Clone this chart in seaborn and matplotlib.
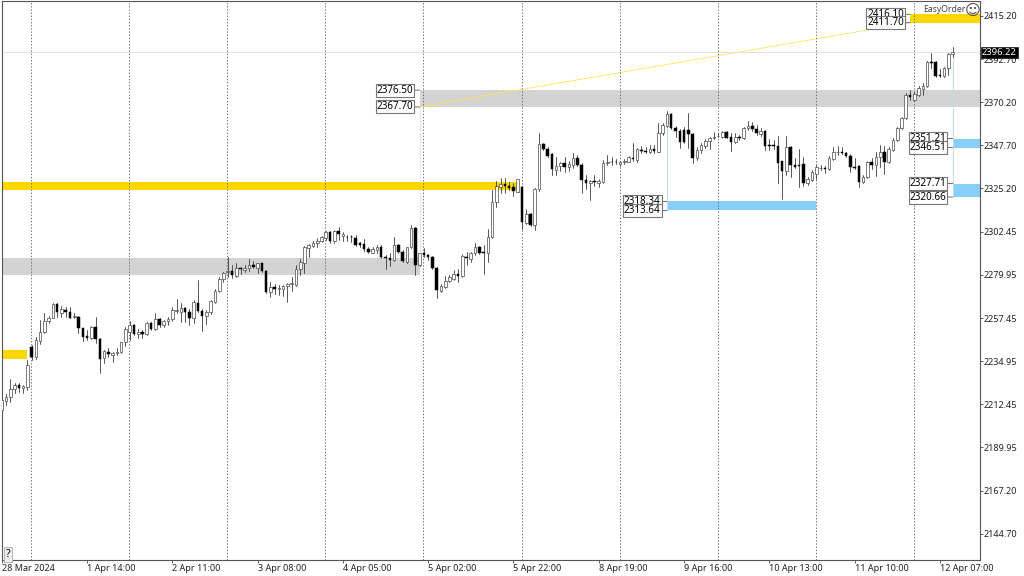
import matplotlib
matplotlib.use("Agg")
import matplotlib.pyplot as plt
import numpy as np
import pandas as pd
import seaborn as sns

opens = [2209.4,2214.3,2216.1,2220.2,2222.3,2220.8,2221.6,2242.5,2237.0,2245.7,
2250.0,2256.1,2257.7,2264.8,2260.3,2261.7,2260.5,2258.2,2258.2,2252.1,
2248.1,2246.9,2252.6,2246.5,2236.4,2239.9,2238.0,2239.4,2239.6,2244.8,
2250.4,2253.8,2249.0,2250.4,2249.0,2254.7,2251.7,2256.8,2253.7,2255.8,
2256.8,2261.2,2260.8,2262.5,2260.8,2257.7,2265.5,2261.2,2258.7,2260.5,
2266.0,2271.8,2277.7,2281.7,2282.0,2279.6,2283.4,2282.6,2283.4,2285.2,
2283.8,2286.0,2282.2,2271.3,2273.5,2272.5,2272.6,2274.0,2275.2,2274.7,
2282.9,2286.4,2294.2,2295.1,2296.8,2297.9,2299.1,2302.2,2297.7,2302.9,
2300.2,2300.0,2300.0,2299.1,2296.5,2296.0,2293.3,2291.6,2293.0,2294.7,
2289.5,2288.6,2287.8,2295.6,2292.1,2286.9,2294.4,2304.7,2285.2,2291.3,
2290.2,2289.2,2283.4,2271.6,2273.8,2277.0,2277.9,2280.3,2279.4,2289.5,
2288.1,2291.3,2294.4,2291.8,2291.3,2300.0,2317.9,2326.1,2327.5,2326.4,
2325.7,2323.5,2326.1,2306.9,2311.6,2306.0,2324.7,2348.3,2345.7,2343.1,
2334.8,2336.9,2338.3,2336.5,2337.4,2340.9,2337.4,2329.6,2327.8,2329.0,
2328.2,2328.7,2338.3,2339.1,2339.1,2337.9,2338.9,2339.1,2340.9,2340.0,
2345.4,2344.7,2344.3,2345.6,2344.3,2353.9,2357.7,2364.0,2356.9,2355.3,
2355.6,2355.6,2353.4,2340.9,2345.2,2347.5,2349.9,2351.7,2352.4,2352.2,
2354.8,2351.8,2349.6,2352.2,2351.3,2356.5,2357.7,2356.2,2353.4,2355.3,
2347.8,2347.8,2347.5,2339.5,2334.4,2346.9,2337.4,2337.4,2337.9,2327.8,
2329.6,2332.7,2335.7,2336.0,2335.3,2340.5,2344.0,2344.3,2343.5,2342.3,
2336.2,2336.9,2328.7,2331.0,2338.8,2337.4,2341.4,2344.0,2339.1,2345.2,
2350.4,2356.5,2361.8,2373.9,2371.3,2373.9,2376.9,2378.6,2391.3,2391.3,
2384.4,2383.9,2387.9,2395.2]

highs = [2215.5,2217.8,2225.5,2223.4,2223.4,2222.5,2235.6,2243.4,2247.7,2256.4,
2259.9,2258.5,2265.2,2265.5,2263.8,2263.4,2263.4,2260.3,2258.7,2252.4,
2251.2,2253.3,2258.2,2246.9,2240.8,2241.7,2239.9,2241.7,2245.1,2253.0,
2256.1,2254.4,2251.6,2251.2,2255.2,2255.6,2259.9,2257.3,2256.4,2257.8,
2263.4,2267.2,2265.2,2263.4,2262.0,2266.9,2277.3,2262.0,2261.7,2266.9,
2272.5,2278.7,2281.7,2289.2,2285.2,2286.0,2283.9,2285.2,2288.1,2287.4,
2286.4,2286.4,2282.6,2276.5,2275.2,2274.7,2274.7,2276.0,2279.1,2285.2,
2288.1,2295.1,2296.1,2297.9,2299.1,2300.3,2302.9,2302.9,2303.4,2305.2,
2302.6,2300.8,2300.8,2300.8,2297.3,2298.6,2294.4,2294.4,2295.4,2295.4,
2290.4,2291.3,2299.6,2296.1,2293.0,2294.7,2306.0,2305.2,2291.6,2293.9,
2290.9,2289.9,2283.9,2275.2,2279.6,2279.9,2282.6,2282.9,2290.9,2291.8,
2292.1,2296.5,2295.1,2295.6,2303.8,2324.3,2329.2,2330.4,2330.4,2328.7,
2327.8,2330.1,2326.4,2314.4,2312.5,2325.2,2354.3,2349.0,2346.6,2343.8,
2341.4,2339.1,2341.7,2339.7,2343.8,2342.6,2338.3,2332.2,2329.6,2332.2,
2329.9,2340.0,2342.6,2341.4,2340.3,2339.6,2340.3,2342.1,2348.7,2346.1,
2347.3,2347.0,2347.8,2347.8,2359.1,2359.5,2365.8,2364.7,2357.7,2356.0,
2357.1,2364.4,2353.9,2346.6,2349.0,2350.8,2352.2,2354.8,2353.9,2355.3,
2355.3,2354.3,2354.3,2353.1,2357.1,2360.5,2360.0,2358.3,2356.5,2355.7,
2350.8,2350.4,2352.5,2339.6,2352.5,2347.3,2340.9,2345.6,2341.4,2331.3,
2334.8,2337.4,2337.4,2336.9,2342.1,2346.6,2347.3,2346.6,2344.3,2343.1,
2340.9,2337.4,2332.2,2339.6,2340.9,2344.3,2347.8,2347.3,2346.9,2351.3,
2357.4,2362.6,2374.8,2376.6,2375.7,2378.6,2380.0,2391.7,2395.7,2391.7,
2387.3,2388.7,2395.7,2398.8]

lows = [2207.7,2212.1,2213.8,2218.2,2219.0,2218.2,2219.9,2235.6,2235.9,2243.9,
2249.5,2255.1,2257.3,2258.2,2258.2,2258.2,2257.3,2257.3,2249.5,2245.7,
2246.0,2246.3,2244.6,2229.0,2234.2,2237.3,2234.7,2238.2,2239.0,2242.9,
2246.0,2248.6,2246.9,2246.9,2248.6,2251.2,2251.2,2252.6,2253.0,2253.7,
2256.1,2259.9,2255.6,2255.6,2253.8,2254.7,2260.8,2250.9,2254.4,2259.6,
2265.5,2271.3,2276.5,2279.1,2278.2,2279.1,2280.5,2281.7,2282.2,2283.4,
2281.2,2281.7,2270.7,2268.3,2270.0,2269.5,2269.0,2266.0,2271.8,2274.2,
2280.0,2280.8,2289.2,2294.4,2294.7,2297.3,2298.2,2296.8,2296.8,2298.2,
2297.9,2297.9,2297.3,2295.3,2294.4,2292.7,2291.3,2291.3,2291.6,2288.8,
2283.3,2284.6,2287.4,2291.6,2286.7,2286.4,2293.9,2279.9,2284.6,2289.2,
2287.8,2282.9,2268.1,2270.9,2273.0,2276.5,2277.3,2276.5,2279.1,2285.2,
2286.9,2290.4,2290.9,2280.5,2286.9,2299.1,2315.6,2322.6,2322.6,2324.3,
2321.2,2323.1,2303.8,2306.4,2305.7,2303.4,2324.0,2345.2,2341.4,2332.2,
2332.2,2334.4,2333.9,2334.4,2335.6,2336.9,2322.9,2324.7,2319.1,2326.4,
2326.1,2327.8,2337.4,2337.4,2337.7,2336.9,2337.9,2338.8,2339.6,2339.1,
2343.8,2343.5,2343.5,2343.8,2344.0,2353.0,2357.4,2356.0,2352.2,2346.1,
2348.7,2346.1,2338.6,2340.0,2343.5,2346.1,2345.6,2350.8,2351.8,2351.7,
2351.3,2344.9,2349.0,2350.4,2351.0,2355.7,2355.3,2353.1,2352.7,2345.2,
2345.2,2345.6,2327.8,2319.4,2332.2,2330.9,2335.6,2326.1,2326.4,2326.9,
2329.2,2329.9,2334.8,2333.4,2334.8,2340.0,2342.6,2343.1,2341.7,2333.9,
2335.1,2325.7,2327.8,2330.4,2335.1,2331.6,2336.5,2332.7,2338.3,2344.9,
2350.1,2356.0,2361.4,2371.3,2371.0,2373.4,2373.9,2378.3,2387.9,2383.2,
2383.2,2383.2,2384.4,2394.0]

closes = [2214.6,2216.4,2220.4,2222.5,2220.8,2222.2,2233.0,2237.3,2246.0,2250.4,
2256.1,2257.7,2264.8,2260.8,2262.0,2260.5,2257.7,2258.7,2252.1,2247.7,
2246.9,2253.0,2246.5,2236.3,2240.1,2238.5,2239.4,2239.6,2244.8,2251.6,
2253.8,2249.1,2250.4,2249.0,2254.7,2251.7,2256.8,2253.7,2255.9,2256.8,
2261.5,2261.5,2262.5,2260.8,2257.7,2265.7,2261.2,2258.7,2260.5,2266.4,
2271.8,2277.9,2280.8,2282.0,2280.0,2283.4,2282.9,2283.8,2285.3,2284.0,
2286.0,2282.2,2271.3,2273.5,2272.5,2273.0,2274.2,2275.2,2275.6,2283.3,
2286.6,2294.4,2295.4,2296.8,2297.9,2299.6,2302.2,2297.7,2302.9,2301.4,
2301.2,2299.6,2299.6,2295.6,2295.6,2293.3,2291.9,2293.3,2294.7,2289.3,
2288.6,2287.8,2295.6,2292.1,2287.3,2294.4,2304.3,2285.2,2291.3,2290.2,
2289.2,2283.4,2272.1,2274.2,2277.0,2279.1,2280.3,2279.6,2290.0,2288.6,
2291.6,2294.4,2291.6,2291.3,2300.0,2317.9,2326.4,2327.5,2326.4,2325.2,
2324.0,2329.9,2307.8,2311.8,2306.0,2324.7,2348.3,2345.7,2342.1,2335.1,
2336.9,2338.3,2336.5,2337.9,2340.9,2337.4,2329.6,2327.8,2329.0,2328.5,
2329.0,2338.6,2339.1,2338.8,2338.8,2339.1,2339.6,2341.4,2340.3,2345.6,
2344.7,2344.3,2345.6,2344.7,2354.3,2358.3,2364.0,2356.5,2355.3,2349.6,
2349.6,2353.4,2340.9,2345.2,2347.8,2349.9,2351.7,2352.2,2352.7,2354.8,
2351.7,2349.6,2352.2,2351.7,2356.5,2357.7,2356.0,2353.9,2355.3,2347.5,
2347.5,2347.5,2338.6,2334.4,2346.6,2337.4,2336.5,2337.0,2327.8,2330.1,
2333.9,2336.2,2336.0,2335.3,2340.9,2344.0,2344.3,2343.5,2342.3,2336.5,
2335.7,2328.7,2331.0,2338.8,2337.4,2341.7,2344.3,2339.1,2345.6,2350.4,
2356.5,2361.8,2373.9,2372.7,2374.5,2377.4,2378.8,2391.3,2390.8,2384.0,
2383.9,2387.9,2395.2,2396.2]

price_ticks = [2415.20,2392.70,2370.20,2347.70,2325.20,2302.45,2279.95,2257.45,2234.95,2212.45,2189.95,2167.20,2144.70]
date_labels = ["28 Mar 2024","1 Apr 14:00","2 Apr 11:00","3 Apr 08:00","4 Apr 05:00","5 Apr 02:00",
               "5 Apr 22:00","8 Apr 19:00","9 Apr 16:00","10 Apr 13:00","11 Apr 10:00","12 Apr 07:00"]
date_bars = [0,20,40,60,80,100,120,140,160,180,200,220]
session_bars = [7,30,53,76,99,122,145,168,191,214]
last_price = 2396.22

zone_start = [-1,-1,-1,98,213,156,223,223]
zone_end   = [6,121,98,240,240,191,240,240]
zone_low   = [2236.3,2324.3,2280.1,2367.70,2411.70,2313.64,2346.51,2320.66]
zone_high  = [2240.8,2328.5,2288.8,2376.50,2416.10,2318.34,2351.21,2327.71]
zone_color = ["#FFD700","#FFD700","#D3D3D3","#D3D3D3","#FFD700","#87CEFA","#87CEFA","#87CEFA"]
label_zones = [3,4,5,6,7]

LIB = ["Noto Sans","DejaVu Sans"]
sns.set_theme(style="white")
plt.rcParams["font.family"] = LIB

n = len(opens)
bars = np.arange(n)
o, h, l, c = map(np.array, (opens, highs, lows, closes))

fig = plt.figure(figsize=(10.24,5.76), dpi=100, facecolor="white")
ax = fig.add_axes([1.5/1024, 1-560/576, (980-1.5)/1024, 559/576])
ax.set_facecolor("white")

for s,e,lo,hi,col in zip(zone_start,zone_end,zone_low,zone_high,zone_color):
    ax.fill_between([s,e],lo,hi,color=col,lw=0,zorder=1)

# connectors
ax.plot([98,98],[2284,2367.70],color="#E6E6E6",lw=0.7,zorder=0.9)
ax.plot([156,156],[2313.64,2358],color="#BBDDF5",lw=0.7,zorder=1.2)
ax.plot([223,223],[2320.66,2395],color="#BBDDF5",lw=0.7,zorder=1.2)
ax.plot([98,213],[2367.70,2411.70],color="#FFE34D",lw=0.55,zorder=1.3)
ax.axhline(last_price,color="#DDDDDD",lw=0.6,zorder=1.3)

for b in session_bars:
    ax.axvline(b-0.1,color="#666666",lw=0.65,ls=(0,(1.5,2)),zorder=1.5)

# wicks through seaborn
wicks = pd.DataFrame({"bar":np.r_[bars,bars],"price":np.r_[h,l]})
sns.lineplot(data=wicks,x="bar",y="price",units="bar",estimator=None,color="#3A3A3A",lw=0.6,
             legend=False,ax=ax,zorder=2,errorbar=None)

# bodies
up = c>=o
ax.bar(bars[up],(c-o)[up],bottom=o[up],width=0.62,facecolor="white",edgecolor="#4A4A4A",lw=0.5,zorder=3)
ax.bar(bars[~up],(o-c)[~up],bottom=c[~up],width=0.58,facecolor="black",edgecolor="black",lw=0.35,zorder=3)

ax.set_xlim(-0.05,229.4)
ax.set_ylim(2131.1,2423.03)
ax.set_xlabel(""); ax.set_ylabel("")

ax.yaxis.tick_right()
ax.set_yticks(price_ticks)
ax.set_yticklabels([f"{v:.2f}" for v in price_ticks])
ax.set_xticks(date_bars)
ax.set_xticklabels(date_labels,ha="left")
ax.tick_params(axis="both",which="major",length=2.2,width=0.6,color="#444444",labelsize=6.5,labelcolor="#222222",
               bottom=True,right=True,left=False,top=False,pad=0.6)
ax.tick_params(axis="x",pad=0.5)
for sp in ax.spines.values():
    sp.set_visible(True); sp.set_color("#555555"); sp.set_linewidth(0.8)

# price boxes
for i in label_zones:
    for p in (zone_high[i],zone_low[i]):
        ax.annotate(f"{p:.2f}",xy=(zone_start[i],p),xytext=(-4.5,0),textcoords="offset points",
                    ha="right",va="center",fontsize=7.1,color="black",zorder=6,
                    arrowprops=dict(arrowstyle="-",color="#555555",lw=0.6,shrinkA=0,shrinkB=0),
                    bbox=dict(boxstyle="square,pad=0.1",fc="white",ec="#777777",lw=0.8))

# current price flag
ax.annotate(f"{last_price:.2f}",xy=(1,last_price),xycoords=ax.get_yaxis_transform(),xytext=(1.4,0),
            textcoords="offset points",ha="left",va="center",fontsize=6.8,color="white",zorder=7,
            annotation_clip=False,bbox=dict(boxstyle="square,pad=0.1",fc="black",ec="black",lw=0.4))

ax.text(965/980,1-8/559,"EasyOrder",transform=ax.transAxes,ha="right",va="center",fontsize=6.2,color="#444444")
ax.text(973/980,1-9/559,"\u263A",transform=ax.transAxes,ha="center",va="center",fontsize=11,color="#444444",family="DejaVu Sans")
ax.text(6.5/980,5.5/559,"?",transform=ax.transAxes,ha="center",va="center",fontsize=7.5,color="black",
        bbox=dict(boxstyle="square,pad=0.2",fc="#F0F0F0",ec="#AAAAAA",lw=0.6))

fig.savefig("out.png",dpi=100,facecolor="white")
